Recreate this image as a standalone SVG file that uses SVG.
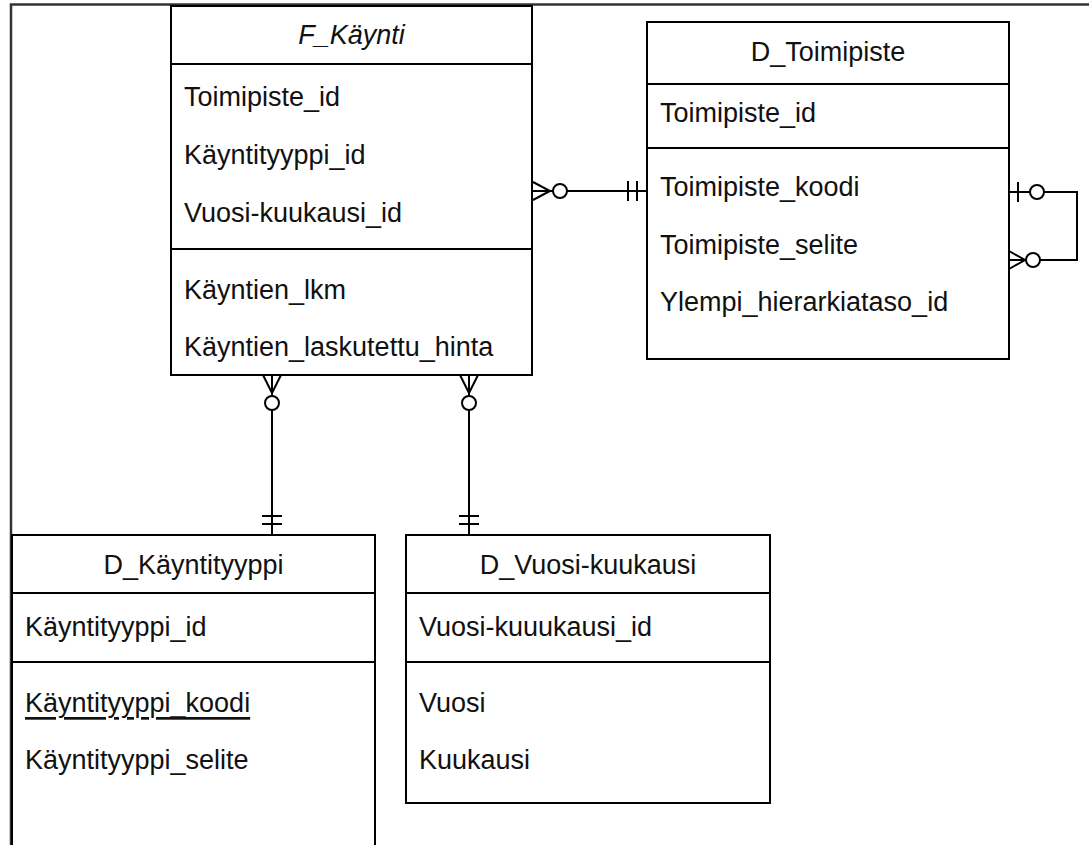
<svg xmlns="http://www.w3.org/2000/svg" width="1089" height="845" viewBox="0 0 1089 845">
  <style>
    .box { fill: #ffffff; stroke: #000000; stroke-width: 2; }
    .sep { stroke: #000000; stroke-width: 2; }
    .frame { stroke: #333333; stroke-width: 2.5; fill: none; }
    .lbl { font-family: "Liberation Sans", Arial, sans-serif; font-size: 27px; fill: #111111; dominant-baseline: central; }
    .title { text-anchor: middle; }
    .ital { font-style: italic; }
    .key { text-decoration: underline; }
    .edge { stroke: #000000; stroke-width: 2; fill: none; }
    .ring { stroke: #000000; stroke-width: 2; fill: #ffffff; }
  </style>

  <rect width="1089" height="845" fill="#ffffff"/>
  <!-- outer frame -->
  <path class="frame" d="M11 845 V4.5 H1089"/>

  <g id="connectors">
    <!-- F_Käynti (zero-or-many) to D_Toimipiste (exactly one) -->
    <g id="c-kaynti-toimipiste">
      <path class="edge" d="M532 191 H646"/>
      <path class="edge" d="M533 182 L550 191 L533 200"/>
      <circle class="ring" cx="560" cy="191" r="7"/>
      <path class="edge" d="M628 181 V201 M637 181 V201"/>
    </g>
    <!-- D_Toimipiste self-reference -->
    <g id="c-toimipiste-self">
      <path class="edge" d="M1009 192 H1077 V260 H1009"/>
      <path class="edge" d="M1018 182 V202"/>
      <circle class="ring" cx="1037" cy="192" r="7"/>
      <path class="edge" d="M1009 251 L1025 260 L1009 269"/>
      <circle class="ring" cx="1033" cy="260" r="7"/>
    </g>
    <!-- F_Käynti (zero-or-many) to D_Käyntityyppi (exactly one) -->
    <g id="c-kaynti-kayntityyppi">
      <path class="edge" d="M272 375 V535"/>
      <path class="edge" d="M263 375 L272 393 L281 375"/>
      <circle class="ring" cx="272" cy="403" r="7"/>
      <path class="edge" d="M262 516 H282 M262 524 H282"/>
    </g>
    <!-- F_Käynti (zero-or-many) to D_Vuosi-kuukausi (exactly one) -->
    <g id="c-kaynti-vuosikuukausi">
      <path class="edge" d="M469 375 V535"/>
      <path class="edge" d="M460 375 L469 393 L478 375"/>
      <circle class="ring" cx="469" cy="403" r="7"/>
      <path class="edge" d="M459 516 H479 M459 524 H479"/>
    </g>
  </g>

  <g id="F_Kaynti">
    <rect class="box" x="171" y="6" width="361" height="369"/>
    <line class="sep" x1="171" y1="64" x2="532" y2="64"/>
    <line class="sep" x1="171" y1="249" x2="532" y2="249"/>
    <text class="lbl title ital" x="351.5" y="35">F_Käynti</text>
    <text class="lbl" x="184" y="97">Toimipiste_id</text>
    <text class="lbl" x="184" y="155">Käyntityyppi_id</text>
    <text class="lbl" x="184" y="213">Vuosi-kuukausi_id</text>
    <text class="lbl" x="184" y="290">Käyntien_lkm</text>
    <text class="lbl" x="184" y="347">Käyntien_laskutettu_hinta</text>
  </g>

  <g id="D_Toimipiste">
    <rect class="box" x="647" y="22" width="362" height="337"/>
    <line class="sep" x1="647" y1="84" x2="1009" y2="84"/>
    <line class="sep" x1="647" y1="148" x2="1009" y2="148"/>
    <text class="lbl title" x="828" y="52">D_Toimipiste</text>
    <text class="lbl" x="660" y="113">Toimipiste_id</text>
    <text class="lbl" x="660" y="187">Toimipiste_koodi</text>
    <text class="lbl" x="660" y="245">Toimipiste_selite</text>
    <text class="lbl" x="660" y="302">Ylempi_hierarkiataso_id</text>
  </g>

  <g id="D_Kayntityyppi">
    <rect class="box" x="12" y="535" width="363" height="330"/>
    <line class="sep" x1="12" y1="593" x2="375" y2="593"/>
    <line class="sep" x1="12" y1="662" x2="375" y2="662"/>
    <text class="lbl title" x="193.5" y="565">D_Käyntityyppi</text>
    <text class="lbl" x="25" y="627">Käyntityyppi_id</text>
    <text class="lbl key" x="25" y="703">Käyntityyppi_koodi</text>
    <text class="lbl" x="25" y="760">Käyntityyppi_selite</text>
  </g>

  <g id="D_Vuosi-kuukausi">
    <rect class="box" x="406" y="535" width="364" height="268"/>
    <line class="sep" x1="406" y1="593" x2="770" y2="593"/>
    <line class="sep" x1="406" y1="662" x2="770" y2="662"/>
    <text class="lbl title" x="588" y="565">D_Vuosi-kuukausi</text>
    <text class="lbl" x="419" y="627">Vuosi-kuuukausi_id</text>
    <text class="lbl" x="419" y="703">Vuosi</text>
    <text class="lbl" x="419" y="760">Kuukausi</text>
  </g>
</svg>
